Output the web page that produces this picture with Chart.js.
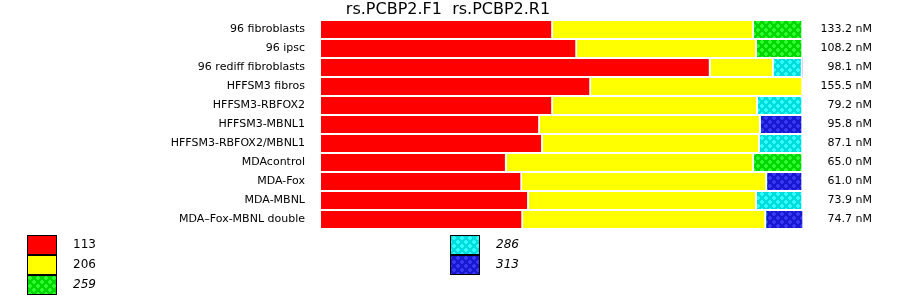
<!DOCTYPE html>
<html>
<head>
<meta charset="utf-8">
<script src="https://cdn.jsdelivr.net/npm/chart.js@4.4.0/dist/chart.umd.min.js"></script>
<style>
  html, body { margin: 0; padding: 0; background: #fff; }
  #wrap { width: 900px; height: 299px; position: relative; }
</style>
</head>
<body>
<div id="wrap"><canvas id="grafico" width="900" height="299"></canvas></div>
<script>
// datos
var categorias = ['96 fibroblasts', '96 ipsc', '96 rediff fibroblasts', 'HFFSM3 fibros', 'HFFSM3-RBFOX2',
  'HFFSM3-MBNL1', 'HFFSM3-RBFOX2/MBNL1', 'MDAcontrol', 'MDA-Fox', 'MDA-MBNL', 'MDA\u2013Fox-MBNL double'];
var concentraciones = ['133.2 nM', '108.2 nM', '98.1 nM', '155.5 nM', '79.2 nM', '95.8 nM',
  '87.1 nM', '65.0 nM', '61.0 nM', '73.9 nM', '74.7 nM'];
// porcentaje de cada pico por fila
var pico113 = [48.1, 53.1, 80.8, 56.0, 48.1, 45.4, 46.0, 38.5, 41.7, 43.1, 41.9];
var pico206 = [41.7, 37.3, 13.1, 44.0, 42.5, 45.8, 45.0, 51.3, 50.8, 47.3, 50.4];
var pico259 = [10.2, 9.6, 0, 0, 0, 0, 0, 10.2, 0, 0, 0];
var pico286 = [0, 0, 6.0, 0, 9.4, 0, 9.0, 0, 0, 9.6, 0];
var pico313 = [0, 0, 0, 0, 0, 8.8, 0, 0, 7.5, 0, 7.9];
var titulo = 'rs.PCBP2.F1  rs.PCBP2.R1';

// patron de puntos para los picos con trama
function patron(fondo, punto) {
  var c = document.createElement('canvas');
  c.width = 8; c.height = 8;
  var p = c.getContext('2d');
  p.fillStyle = fondo;
  p.fillRect(0, 0, 8, 8);
  p.fillStyle = punto;
  [[1, 1], [5, 5]].forEach(function (d) {
    p.fillRect(d[0], d[1] - 1, 2, 4);
    p.fillRect(d[0] - 1, d[1], 4, 2);
  });
  return document.getElementById('grafico').getContext('2d').createPattern(c, 'repeat');
}

var verde = patron('#00d800', '#30f830');
var cian = patron('#00dcdc', '#30fcfc');
var azul = patron('#1818d0', '#3838f4');

var leyenda = [
  { label: '113', color: '#ff0000', x: 27, y: 235, italic: false },
  { label: '206', color: '#ffff00', x: 27, y: 255, italic: false },
  { label: '259', color: verde, x: 27, y: 275, italic: true },
  { label: '286', color: cian, x: 450, y: 235, italic: true },
  { label: '313', color: azul, x: 450, y: 255, italic: true }
];

// dibuja etiquetas, titulo y leyenda
var textos = {
  id: 'textos',
  afterDraw: function (chart) {
    var ctx = chart.ctx;
    var yScale = chart.scales.y;
    ctx.save();
    ctx.fillStyle = '#000';
    ctx.textBaseline = 'middle';
    ctx.font = '11px "DejaVu Sans"';
    categorias.forEach(function (cat, i) {
      var y = yScale.getPixelForValue(i);
      ctx.textAlign = 'right';
      ctx.fillText(cat, 305, y);
      ctx.fillText(concentraciones[i], 872, y);
    });
    ctx.font = '16px "DejaVu Sans"';
    ctx.textAlign = 'center';
    ctx.fillText(titulo, 448, 10);

    leyenda.forEach(function (l) {
      ctx.fillStyle = l.color;
      ctx.fillRect(l.x, l.y, 30, 20);
      ctx.strokeStyle = '#000';
      ctx.lineWidth = 1;
      ctx.strokeRect(l.x + 0.5, l.y + 0.5, 29, 19);
      ctx.fillStyle = '#000';
      ctx.textAlign = 'left';
      ctx.font = (l.italic ? 'italic ' : '') + '12px "DejaVu Sans"';
      ctx.fillText(l.label, l.x + 46, l.y + 10);
    });
    ctx.restore();
  }
};

function serie(nombre, datos, color) {
  return {
    label: nombre,
    data: datos,
    backgroundColor: color,
    borderColor: '#fff',
    borderWidth: { top: 0, bottom: 0, left: 0, right: 2 },
    borderSkipped: false,
    barThickness: 17
  };
}

new Chart(document.getElementById('grafico'), {
  type: 'bar',
  data: {
    labels: categorias,
    datasets: [
      serie('113', pico113, '#ff0000'),
      serie('206', pico206, '#ffff00'),
      serie('259', pico259, verde),
      serie('286', pico286, cian),
      serie('313', pico313, azul)
    ]
  },
  options: {
    indexAxis: 'y',
    responsive: false,
    animation: false,
    layout: { padding: { left: 321, right: 97, top: 20, bottom: 70 } },
    scales: {
      x: { stacked: true, min: 0, max: 100, display: false },
      y: { stacked: true, display: false }
    },
    plugins: { legend: { display: false }, tooltip: { enabled: false }, title: { display: false } }
  },
  plugins: [textos]
});
</script>
</body>
</html>
